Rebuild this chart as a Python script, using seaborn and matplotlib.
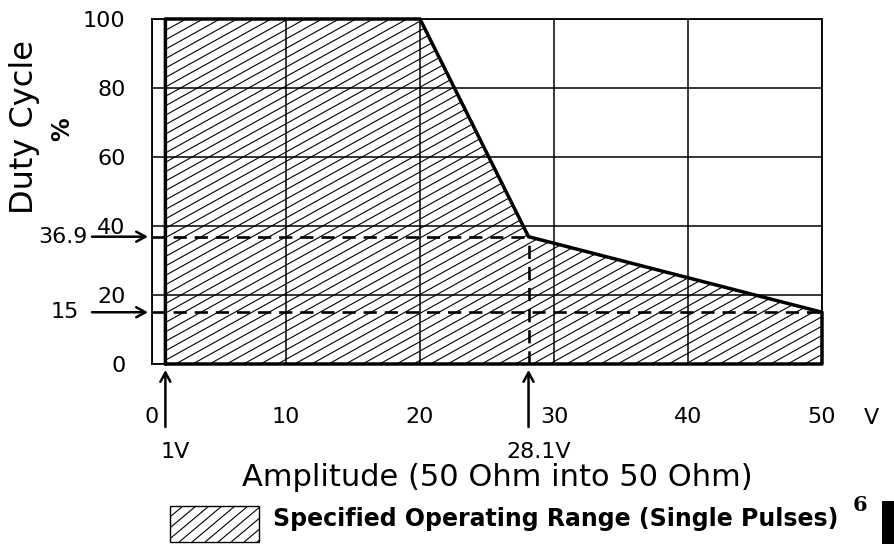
import numpy as np
import matplotlib
matplotlib.use("Agg")
import matplotlib.pyplot as plt
import matplotlib.transforms as mtransforms
from matplotlib.collections import LineCollection
from matplotlib.patches import Polygon, Rectangle
import seaborn as sns

# Operating envelope: pulse amplitude (V) against maximum duty cycle (%)
amplitude_v = [1, 1, 20, 28.1, 50, 50]
duty_cycle_pct = [0, 100, 100, 36.9, 15, 0]

x_ticks = [0, 10, 20, 30, 40, 50]
y_ticks = [0, 20, 40, 60, 80, 100]

marked_amplitudes = [1, 28.1]
marked_amplitude_labels = ["1V", "28.1V"]
marked_duties = [36.9, 15]
marked_duty_labels = ["36.9", "15"]

W, H = 894, 544
sns.set_theme(style="white")
plt.rcParams["font.family"] = ["DejaVu Sans"]
plt.rcParams["text.color"] = "black"

fig = plt.figure(figsize=(W / 100, H / 100), dpi=100)
fig.patch.set_facecolor("white")
ax = fig.add_axes([152 / W, 1 - 364 / H, (822 - 152) / W, (364 - 19) / H])
ax.set_facecolor("white")

# transform for figure pixel coordinates measured from the top-left corner
px = mtransforms.Affine2D().scale(1 / W, -1 / H).translate(0, 1) + fig.transFigure
fig_x_data_y = mtransforms.blended_transform_factory(fig.transFigure, ax.transData)
data_x_fig_y = mtransforms.blended_transform_factory(ax.transData, fig.transFigure)


def hatch_segments(x0, y0, x1, y1, step, angle_deg):
    """Parallel lines rising to the right across a pixel box."""
    t = np.tan(np.radians(angle_deg))
    h = y1 - y0
    cs = np.arange(x0 - h / t - step, x1 + step, step)
    return [[(c, y1), (c + h / t, y0)] for c in cs]


ax.set_xlim(x_ticks[0], x_ticks[-1])
ax.set_ylim(y_ticks[0], y_ticks[-1])
ax.set_xticks(x_ticks)
ax.set_yticks(y_ticks)
ax.grid(True, color="black", linewidth=1.1, zorder=1)
ax.tick_params(length=0, labelsize=16, colors="black")
ax.tick_params(axis="x", pad=31)
ax.tick_params(axis="y", pad=19)
ax.set_xlabel("")
ax.set_ylabel("")
for sp in ax.spines.values():
    sp.set_visible(True)
    sp.set_color("black")
    sp.set_linewidth(1.3)

# hatched operating region
region = Polygon(np.column_stack([amplitude_v, duty_cycle_pct]), closed=True,
                 facecolor="none", edgecolor="none")
ax.add_patch(region)
hatch = LineCollection(hatch_segments(152, 19, 822, 364, 17, 29),
                       colors="black", linewidths=0.8, transform=px, zorder=2)
hatch.set_clip_path(region)
ax.add_collection(hatch, autolim=False)

# boundary of the region
sns.lineplot(x=amplitude_v + amplitude_v[:1], y=duty_cycle_pct + duty_cycle_pct[:1],
             sort=False, estimator=None, color="black", linewidth=2.5,
             ax=ax, zorder=4, clip_on=False)

# dashed guides to the break points
dash = dict(color="black", linewidth=1.9, linestyles=(0, (5, 3)), zorder=3)
ax.hlines(marked_duties[0], x_ticks[0], marked_amplitudes[1], **dash)
ax.vlines(marked_amplitudes[1], y_ticks[0], marked_duties[0], **dash)
ax.hlines(marked_duties[1], x_ticks[0], amplitude_v[-1], **dash)

arrow = dict(arrowstyle="->,head_length=0.55,head_width=0.3", color="black",
             linewidth=1.8, shrinkA=0, shrinkB=0)

# duty-cycle markers on the left
for d, lab, right_px in zip(marked_duties, marked_duty_labels, [88, 79]):
    ax.annotate("", xy=(148 / W, d), xycoords=fig_x_data_y,
                xytext=(92 / W, d), textcoords=fig_x_data_y,
                arrowprops=arrow, annotation_clip=False)
    ax.text(right_px / W, d, lab, transform=fig_x_data_y, ha="right",
            va="center", fontsize=16, color="black")

# amplitude markers below
for a, lab in zip(marked_amplitudes, marked_amplitude_labels):
    ax.annotate("", xy=(a, 1 - 370 / H), xycoords=data_x_fig_y,
                xytext=(a, 1 - 427 / H), textcoords=data_x_fig_y,
                arrowprops=arrow, annotation_clip=False)
    ax.annotate(lab, xy=(a, 1 - 452 / H), xycoords=data_x_fig_y,
                xytext=(10, 0), textcoords="offset pixels",
                ha="center", va="center", fontsize=16, color="black",
                annotation_clip=False)

fig.text(871 / W, 1 - 418 / H, "V", ha="center", va="center", fontsize=16)

# axis titles
fig.text(25 / W, 1 - 127 / H, "Duty Cycle", rotation=90, ha="center",
         va="center", fontsize=23)
fig.text(62 / W, 1 - 129 / H, "%", rotation=90, ha="center", va="center",
         fontsize=17, fontweight="bold")
fig.text(497 / W, 1 - 477 / H, "Amplitude (50 Ohm into 50 Ohm)", ha="center",
         va="center", fontsize=22)

# legend swatch and caption
swatch = Rectangle((170, 506), 89, 36, transform=px, facecolor="white",
                   edgecolor="black", linewidth=1.0)
fig.add_artist(swatch)
sw_hatch = LineCollection(hatch_segments(170, 506, 259, 542, 13, 40),
                          colors="black", linewidths=0.8, transform=px)
sw_hatch.set_clip_path(swatch)
fig.add_artist(sw_hatch)
fig.text(273 / W, 1 - 519 / H, "Specified Operating Range (Single Pulses)",
         ha="left", va="center", fontsize=17, fontweight="bold")

# page number and thumb tab
fig.text(860 / W, 1 - 505 / H, "6", ha="center", va="center", fontsize=15,
         fontweight="bold", family="DejaVu Serif")
fig.add_artist(Rectangle((882, 501), 12, 43, transform=px, facecolor="black",
                         edgecolor="none"))

fig.savefig("out.png", dpi=100)
